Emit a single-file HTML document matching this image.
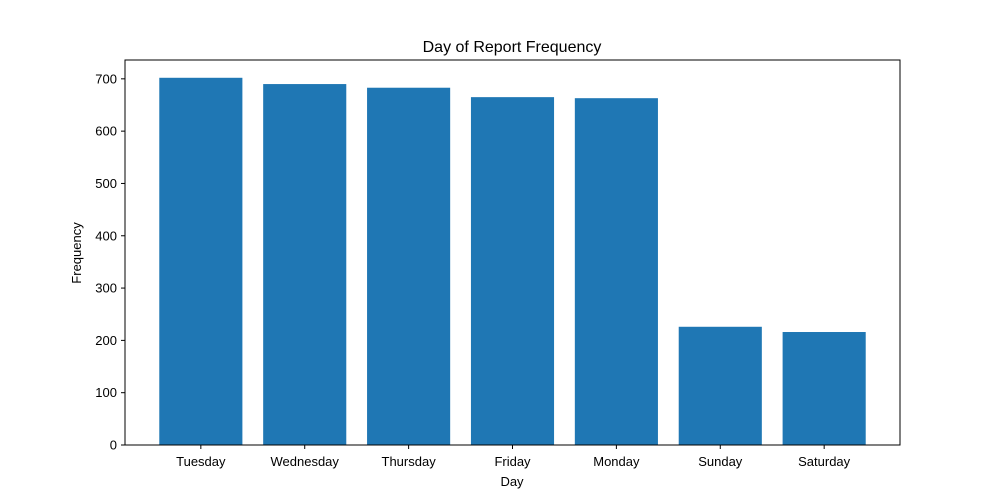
<!DOCTYPE html>
<html><head><meta charset="utf-8"><style>body{margin:0;background:#fff}svg{display:block;font-family:"Liberation Sans","DejaVu Sans",sans-serif}</style></head>
<body>
<svg id="chart" width="1000" height="500"></svg>
<script>
const categories=["Tuesday","Wednesday","Thursday","Friday","Monday","Sunday","Saturday"];
const values=[702,690,683,665,663,226,216];
const yTicks=[0,100,200,300,400,500,600,700];
const NS="http://www.w3.org/2000/svg";
const svg=document.getElementById('chart');
const L=125,R=900,T=60,B=445,xmin=-0.73,xmax=6.73,ymax=736;
const xs=v=>L+(v-xmin)/(xmax-xmin)*(R-L);
const ys=v=>B-v/ymax*(B-T);
function mk(t,a,txt){const e=document.createElementNS(NS,t);for(const k in a)e.setAttribute(k,a[k]);if(txt!==undefined)e.textContent=txt;svg.appendChild(e);return e;}
const title=mk('text',{x:512,y:52,'text-anchor':'middle','font-size':16,fill:'#000'},'Day of Report Frequency');


values.forEach((v,i)=>{const w=xs(0.4)-xs(-0.4);
const b=mk('rect',{x:xs(i)-w/2,y:ys(v),width:w,height:ys(0)-ys(v),fill:'#1f77b4'});


const tk=mk('line',{x1:xs(i),x2:xs(i),y1:B,y2:B+4,stroke:'#000'});
const lb=mk('text',{x:xs(i),y:466,'text-anchor':'middle','font-size':13,fill:'#000'},categories[i]);

});
yTicks.forEach(t=>{mk('line',{x1:L-4,x2:L,y1:ys(t),y2:ys(t),stroke:'#000'});
const lb=mk('text',{x:L-8,y:ys(t)+4.5,'text-anchor':'end','font-size':13,fill:'#000'},t);

});
const ax=mk('rect',{x:L,y:T,width:R-L,height:B-T,fill:'none',stroke:'#000','stroke-width':1});


const xl=mk('text',{x:512,y:486,'text-anchor':'middle','font-size':13,fill:'#000'},'Day');


const yl=mk('text',{x:0,y:0,'text-anchor':'middle','font-size':13,fill:'#000',transform:'translate(81,253) rotate(-90)'},'Frequency');


</script>
</body></html>
